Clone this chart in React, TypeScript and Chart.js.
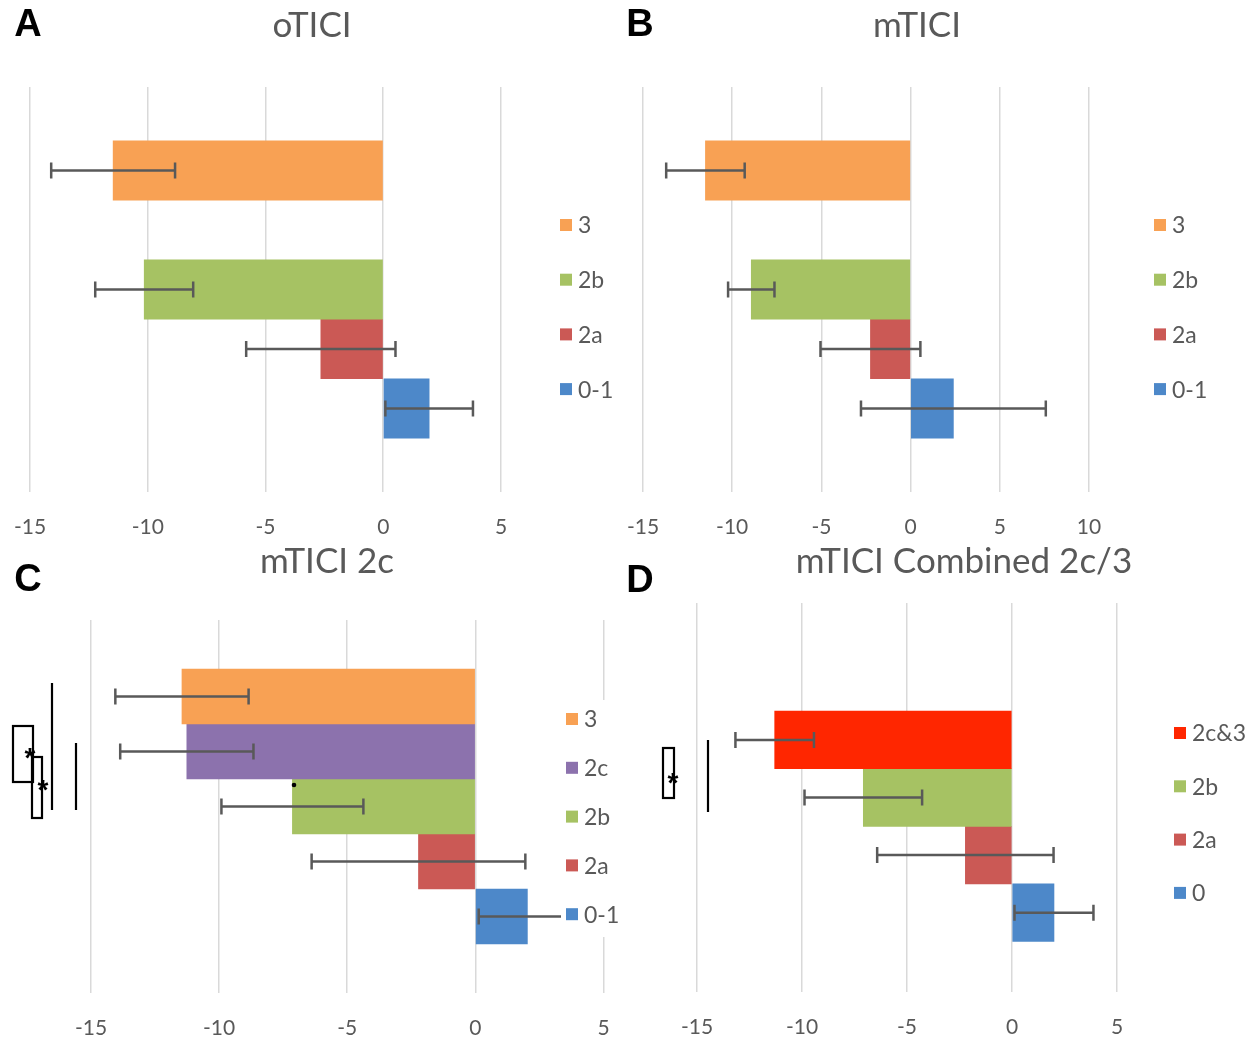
import React, { useEffect, useRef } from 'react';
import { Chart, registerables } from 'chart.js';

Chart.register(...registerables);

// ---------------- Data ----------------
const SERIES_A = ['3', '2c', '2b', '2a', '0-1'];
const VALUES_A: (number | null)[] = [-11.47, null, -10.15, -2.65, 1.95];
const ERRORS_A: (number | null)[] = [2.63, null, 2.08, 3.17, 1.86];

const SERIES_B = ['3', '2c', '2b', '2a', '0-1'];
const VALUES_B: (number | null)[] = [-11.5, null, -8.93, -2.25, 2.4];
const ERRORS_B: (number | null)[] = [2.2, null, 1.3, 2.8, 5.18];

const SERIES_C = ['3', '2c', '2b', '2a', '0-1'];
const VALUES_C: (number | null)[] = [-11.45, -11.26, -7.14, -2.22, 2.03];
const ERRORS_C: (number | null)[] = [2.6, 2.6, 2.77, 4.17, 1.9];

const SERIES_D = ['', '2c&3', '2b', '2a', '0'];
const VALUES_D: (number | null)[] = [null, -11.3, -7.08, -2.22, 2.0];
const ERRORS_D: (number | null)[] = [null, 1.87, 2.8, 4.2, 1.88];

const TITLES = ['oTICI', 'mTICI', 'mTICI 2c', 'mTICI Combined 2c/3'];
const LETTERS = ['A', 'B', 'C', 'D'];
const TICK_MIN = [-15, -15, -15, -15];
const TICK_MAX = [5, 10, 5, 5];
const TICK_STEP = 5;

// ---------------- Styles ----------------
const SERIES_COLORS: Record<string, string> = {
  '3': '#F8A154',
  '2c': '#8C72AD',
  '2b': '#A6C263',
  '2a': '#CB5955',
  '0-1': '#4D88C9',
  '0': '#4D88C9',
  '2c&3': '#FF2600',
};
const TEXT_GRAY = '#595959';
const FONT = 'Lato, "Open Sans", sans-serif';
const TITLE_SIZE = 35;
const TICK_SIZE = 21;
const LEGEND_SIZE = 23;

Chart.defaults.font.family = FONT;

type Annot =
  | { kind: 'rect'; x: number; y: number; w: number; h: number }
  | { kind: 'line'; x: number; y1: number; y2: number }
  | { kind: 'star'; x: number; y: number }
  | { kind: 'dot'; x: number; y: number };

interface Panel {
  letter: string;
  letterPos: [number, number];
  title: string;
  series: string[];
  values: (number | null)[];
  errors: (number | null)[];
  tickMin: number;
  tickMax: number;
  left: number;
  top: number;
  width: number;
  height: number;
  padL: number;
  padR: number;
  xMin: number;
  xMax: number;
  titleCenter: number;
  chartTop: number;
  chartBottom: number;
  tickCenter: number;
  barThickness: number;
  legend: { x: number; y0: number; step: number; bg?: { x: number; y: number; w: number; h: number } };
  annotations: Annot[];
}

const PANELS: Panel[] = [
  {
    letter: LETTERS[0], letterPos: [28, 26], title: TITLES[0],
    series: SERIES_A, values: VALUES_A, errors: ERRORS_A,
    tickMin: TICK_MIN[0], tickMax: TICK_MAX[0],
    left: 0, top: 0, width: 625, height: 545,
    padL: 30, padR: 31, xMin: -15, xMax: 8.95,
    titleCenter: 26, chartTop: 87, chartBottom: 492, tickCenter: 527.5,
    barThickness: 59.5,
    legend: { x: 560, y0: 225, step: 54.7 },
    annotations: [],
  },
  {
    letter: LETTERS[1], letterPos: [15, 26], title: TITLES[1],
    series: SERIES_B, values: VALUES_B, errors: ERRORS_B,
    tickMin: TICK_MIN[1], tickMax: TICK_MAX[1],
    left: 625, top: 0, width: 626, height: 545,
    padL: 18, padR: 60, xMin: -15, xMax: 15.72,
    titleCenter: 26, chartTop: 87, chartBottom: 492, tickCenter: 527.5,
    barThickness: 59.5,
    legend: { x: 529, y0: 225, step: 54.7 },
    annotations: [],
  },
  {
    letter: LETTERS[2], letterPos: [28, 41], title: TITLES[2],
    series: SERIES_C, values: VALUES_C, errors: ERRORS_C,
    tickMin: TICK_MIN[2], tickMax: TICK_MAX[2],
    left: 0, top: 540, width: 625, height: 497,
    padL: 40, padR: 11, xMin: -16.99, xMax: 5.41,
    titleCenter: 22, chartTop: 80, chartBottom: 453, tickCenter: 488,
    barThickness: 55,
    legend: { x: 566, y0: 179, step: 48.8, bg: { x: 561, y: 160, w: 64, h: 237 } },
    annotations: [
      { kind: 'rect', x: 13, y: 186, w: 20, h: 56 },
      { kind: 'rect', x: 32, y: 217, w: 10, h: 61 },
      { kind: 'line', x: 52, y1: 143, y2: 270 },
      { kind: 'line', x: 76, y1: 203, y2: 270 },
      { kind: 'star', x: 30, y: 212 },
      { kind: 'star', x: 43, y: 244 },
      { kind: 'dot', x: 294, y: 245 },
    ],
  },
  {
    letter: LETTERS[3], letterPos: [15, 42], title: TITLES[3],
    series: SERIES_D, values: VALUES_D, errors: ERRORS_D,
    tickMin: TICK_MIN[3], tickMax: TICK_MAX[3],
    left: 625, top: 540, width: 626, height: 497,
    padL: 72, padR: 20, xMin: -15, xMax: 10.43,
    titleCenter: 22, chartTop: 63, chartBottom: 452, tickCenter: 487,
    barThickness: 57.6,
    legend: { x: 549, y0: 193, step: 53.3 },
    annotations: [
      { kind: 'rect', x: 38, y: 208, w: 11, h: 50 },
      { kind: 'line', x: 83, y1: 200, y2: 272 },
      { kind: 'star', x: 48, y: 237 },
    ],
  },
];

function makePlugins(p: Panel) {
  const errorBars = {
    id: 'errorBars' + p.letter,
    afterDatasetsDraw(chart: any) {
      const ctx = chart.ctx;
      const xs = chart.scales.x;
      ctx.save();
      ctx.strokeStyle = TEXT_GRAY;
      ctx.lineWidth = 2.5;
      p.values.forEach((v, i) => {
        const e = p.errors[i];
        if (v == null || e == null) return;
        const bar = chart.getDatasetMeta(i).data[0];
        if (!bar) return;
        const y = bar.y;
        const x1 = xs.getPixelForValue(v - e);
        const x2 = xs.getPixelForValue(v + e);
        ctx.beginPath();
        ctx.moveTo(x1, y);
        ctx.lineTo(x2, y);
        ctx.moveTo(x1, y - 8);
        ctx.lineTo(x1, y + 8);
        ctx.moveTo(x2, y - 8);
        ctx.lineTo(x2, y + 8);
        ctx.stroke();
      });
      ctx.restore();
    },
  };
  const legendAndMarks = {
    id: 'legendMarks' + p.letter,
    afterDraw(chart: any) {
      const ctx = chart.ctx;
      ctx.save();
      const lg = p.legend;
      if (lg.bg) {
        ctx.fillStyle = '#ffffff';
        ctx.fillRect(lg.bg.x, lg.bg.y, lg.bg.w, lg.bg.h);
      }
      let k = 0;
      ctx.font = `${LEGEND_SIZE}px ${FONT}`;
      ctx.textBaseline = 'middle';
      ctx.textAlign = 'left';
      p.series.forEach((name, i) => {
        if (p.values[i] == null) return;
        const yc = lg.y0 + k * lg.step;
        ctx.fillStyle = SERIES_COLORS[name];
        ctx.fillRect(lg.x, yc - 6, 12, 12);
        ctx.fillStyle = TEXT_GRAY;
        ctx.fillText(name, lg.x + 18, yc + 1);
        k++;
      });
      // panel letter
      ctx.fillStyle = '#000000';
      ctx.font = 'bold 38px "Liberation Sans", Arial, sans-serif';
      ctx.textAlign = 'center';
      ctx.textBaseline = 'middle';
      ctx.fillText(p.letter, p.letterPos[0], p.letterPos[1]);
      // significance annotations
      ctx.strokeStyle = '#000000';
      ctx.lineWidth = 2.2;
      p.annotations.forEach((a) => {
        if (a.kind === 'rect') {
          ctx.strokeRect(a.x, a.y, a.w, a.h);
        } else if (a.kind === 'line') {
          ctx.beginPath();
          ctx.moveTo(a.x, a.y1);
          ctx.lineTo(a.x, a.y2);
          ctx.stroke();
        } else if (a.kind === 'dot') {
          ctx.beginPath();
          ctx.arc(a.x, a.y, 2.3, 0, Math.PI * 2);
          ctx.fill();
        }
      });
      ctx.font = 'bold 28px "Liberation Sans", Arial, sans-serif';
      ctx.textAlign = 'center';
      ctx.textBaseline = 'alphabetic';
      p.annotations.forEach((a) => {
        if (a.kind === 'star') ctx.fillText('*', a.x, a.y + 15);
      });
      ctx.restore();
    },
  };
  return [errorBars, legendAndMarks];
}

function PanelChart({ panel }: { panel: Panel }) {
  const ref = useRef<HTMLCanvasElement>(null);
  useEffect(() => {
    const canvas = ref.current;
    if (!canvas) return;
    const p = panel;
    const titleLH = TITLE_SIZE * 1.2;
    const tickLineHeight = (2 * (p.tickCenter - p.chartBottom)) / TICK_SIZE;
    const chart = new Chart(canvas, {
      type: 'bar',
      data: {
        labels: [''],
        datasets: p.series.map((name, i) => ({
          label: name,
          data: [p.values[i]],
          backgroundColor: SERIES_COLORS[name] || 'transparent',
          borderWidth: 0,
          barThickness: p.barThickness,
        })),
      },
      options: {
        indexAxis: 'y',
        responsive: false,
        animation: false,
        events: [],
        layout: { padding: { left: p.padL, right: p.padR, top: 0, bottom: 0 } },
        scales: {
          x: {
            type: 'linear',
            min: p.xMin,
            max: p.xMax,
            ticks: {
              stepSize: TICK_STEP,
              includeBounds: false,
              autoSkip: false,
              maxRotation: 0,
              padding: 0,
              color: TEXT_GRAY,
              font: { family: FONT, size: TICK_SIZE, lineHeight: tickLineHeight },
            },
            grid: { color: '#d9d9d9', lineWidth: 1.5, drawTicks: false },
            border: { display: false },
            afterBuildTicks: (s: any) => {
              s.ticks = s.ticks.filter(
                (t: any) => t.value >= p.tickMin - 1e-9 && t.value <= p.tickMax + 1e-9,
              );
            },
            afterFit: (s: any) => {
              s.height = p.height - p.chartBottom;
            },
          },
          y: { type: 'category', display: false, offset: true },
        },
        plugins: {
          legend: { display: false },
          tooltip: { enabled: false },
          title: {
            display: true,
            text: p.title,
            color: TEXT_GRAY,
            font: { family: FONT, size: TITLE_SIZE, weight: 'normal' },
            padding: {
              top: p.titleCenter - titleLH / 2,
              bottom: p.chartTop - p.titleCenter - titleLH / 2,
            },
          },
        },
      } as any,
      plugins: makePlugins(p) as any,
    });
    return () => chart.destroy();
  }, [panel]);
  return (
    <canvas
      ref={ref}
      width={panel.width}
      height={panel.height}
      style={{
        position: 'absolute',
        left: panel.left,
        top: panel.top,
        width: panel.width,
        height: panel.height,
      }}
    />
  );
}

export default function App() {
  return (
    <div
      style={{
        position: 'absolute',
        left: 0,
        top: 0,
        width: 1251,
        height: 1037,
        background: '#ffffff',
        overflow: 'hidden',
      }}
    >
      {PANELS.map((p) => (
        <PanelChart key={p.letter} panel={p} />
      ))}
    </div>
  );
}
